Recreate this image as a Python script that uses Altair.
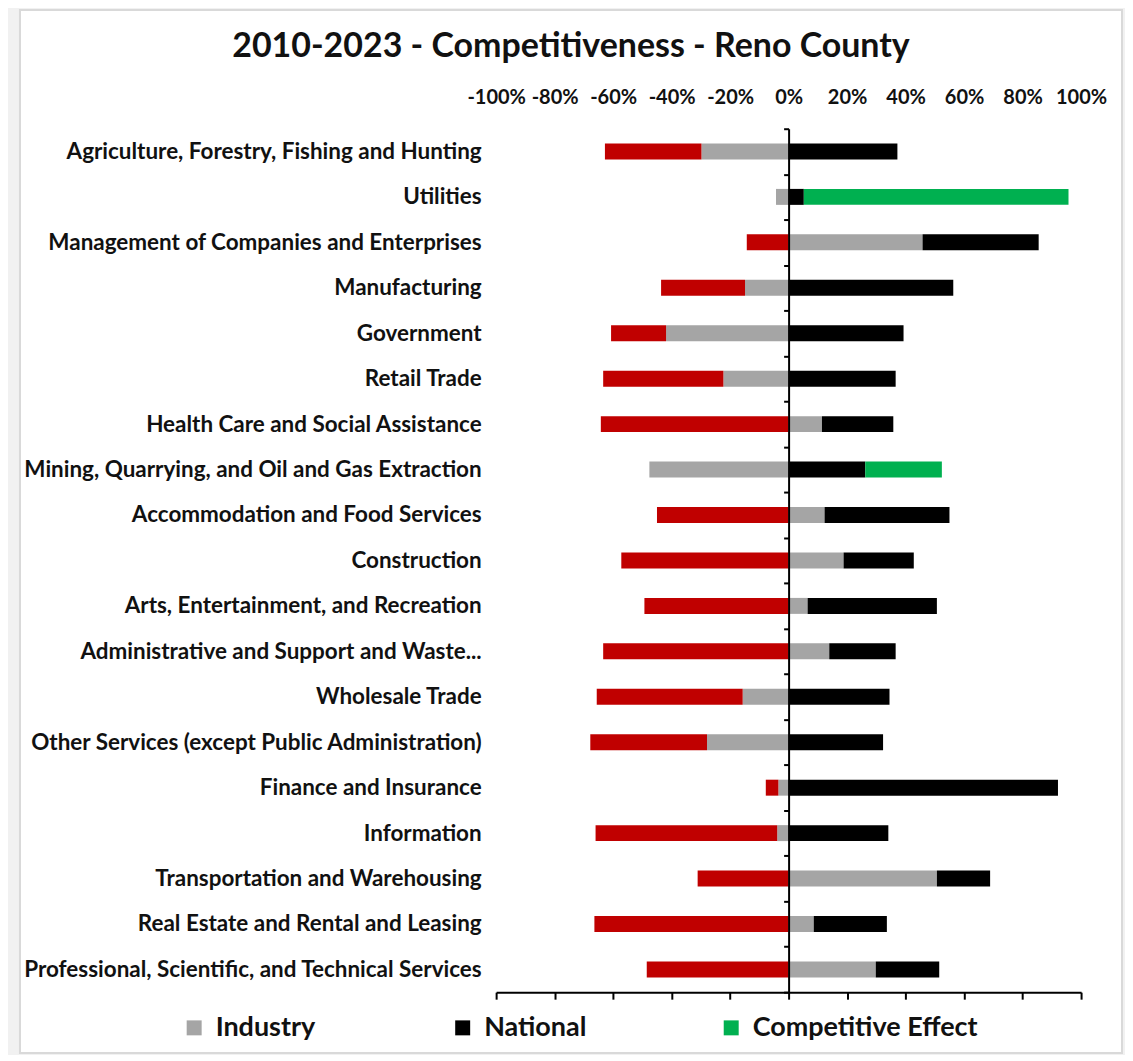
import altair as alt
import pandas as pd

categories = [
    "Agriculture, Forestry, Fishing and Hunting",
    "Utilities",
    "Management of Companies and Enterprises",
    "Manufacturing",
    "Government",
    "Retail Trade",
    "Health Care and Social Assistance",
    "Mining, Quarrying, and Oil and Gas Extraction",
    "Accommodation and Food Services",
    "Construction",
    "Arts, Entertainment, and Recreation",
    "Administrative and Support and Waste...",
    "Wholesale Trade",
    "Other Services (except Public Administration)",
    "Finance and Insurance",
    "Information",
    "Transportation and Warehousing",
    "Real Estate and Rental and Leasing",
    "Professional, Scientific, and Technical Services",
]
industry = [-29.8, -4.3, 45.8, -14.9, -41.9, -22.3, 11.4, -47.6, 12.3, 18.8,
            6.5, 13.9, -15.7, -27.9, -3.5, -3.9, 50.7, 8.6, 29.8]
national = [37.2, 5.2, 39.7, 56.3, 39.3, 36.6, 24.4, 26.2, 42.7, 24.0,
            44.2, 22.7, 34.5, 32.3, 92.1, 34.1, 18.2, 25.0, 21.7]
competitive = [-33.0, 90.5, -14.3, -28.7, -18.8, -41.1, -64.2, 26.2, -45.0, -57.2,
               -49.3, -63.4, -49.9, -39.9, -4.3, -62.1, -31.1, -66.4, -48.5]

series_names = ["Industry", "National", "Competitive Effect"]
color_keys = ["Industry", "National", "Competitive Effect", "Competitive Effect (negative)"]
color_range = ["#A5A5A5", "#000000", "#00B050", "#C00000"]
tick_values = [-1.0, -0.8, -0.6, -0.4, -0.2, 0.0, 0.2, 0.4, 0.6, 0.8, 1.0]
title_text = "2010-2023 - Competitiveness - Reno County"

rows = []
for i, c in enumerate(categories):
    rows.append(dict(category=c, series="Industry", key="Industry",
                     value=industry[i] / 100, order=1))
    rows.append(dict(category=c, series="National", key="National",
                     value=national[i] / 100, order=2))
    comp = competitive[i]
    rows.append(dict(category=c, series="Competitive Effect",
                     key="Competitive Effect" if comp >= 0 else "Competitive Effect (negative)",
                     value=comp / 100, order=3))
df = pd.DataFrame(rows)

FONT = "Lato"
xscale = alt.Scale(domain=[-1, 1], nice=False)
yscale = alt.Scale(paddingInner=0, paddingOuter=0)

bars = alt.Chart(df).mark_bar(size=16).encode(
    x=alt.X("value:Q", stack="zero", scale=xscale,
            axis=alt.Axis(orient="bottom", values=tick_values, labels=False,
                          domainColor="black", domainWidth=2, tickColor="black",
                          tickWidth=2, tickSize=7, grid=False, title=None, zindex=2)),
    y=alt.Y("category:N", sort=categories, scale=yscale,
            axis=alt.Axis(orient="left", offset=-293, title=None, domain=True,
                          domainColor="black", domainWidth=2, ticks=True,
                          tickColor="black", tickWidth=2, tickSize=5,
                          tickBand="extent", labelPadding=303, labelLimit=700,
                          labelFont=FONT, labelFontSize=22.5, labelFontWeight="bold",
                          labelColor="#111111", grid=False, zindex=2)),
    order=alt.Order("order:Q"),
    color=alt.Color("key:N", scale=alt.Scale(domain=color_keys, range=color_range),
                    legend=alt.Legend(orient="none", legendX=-316, legendY=887,
                                      direction="horizontal", title=None,
                                      values=series_names, symbolType="square",
                                      symbolSize=225, symbolStrokeWidth=0,
                                      labelFont=FONT, labelFontSize=27,
                                      labelFontWeight="bold", labelColor="#111111",
                                      labelLimit=500,
                                      gridAlign="all", columnPadding=8,
                                      labelOffset=8, padding=0, zindex=2)),
)

top_axis = alt.Chart(df).mark_bar(opacity=0, size=16).encode(
    x=alt.X("value:Q", stack="zero", scale=xscale,
            axis=alt.Axis(orient="top", values=tick_values,
                          labelExpr="round(datum.value * 100) + '%'",
                          labelOverlap=False, labelFlush=False,
                          domain=False, ticks=False, tickSize=0, labelPadding=21,
                          labelFont=FONT, labelFontSize=20, labelFontWeight="bold",
                          labelColor="#111111", grid=False, title=None, zindex=2)),
    y=alt.Y("category:N", sort=categories, scale=yscale, axis=None),
    order=alt.Order("order:Q"),
)

frame = alt.Chart(pd.DataFrame({"a": [0]})).mark_rect(
    fill="white", stroke="#d9d9d9", strokeWidth=2
).encode(x=alt.value(-477), x2=alt.value(627), y=alt.value(-119), y2=alt.value(926))

title = alt.Chart(pd.DataFrame({"t": [title_text]})).mark_text(
    font=FONT, fontSize=34, fontWeight="bold", align="center", baseline="alphabetic",
    color="#111111"
).encode(text="t:N", x=alt.value(75), y=alt.value(-72))

chart = alt.layer(frame, bars, top_axis, title).resolve_axis(
    x="independent", y="independent"
).properties(
    width=586, height=865, background="#f1f1f1",
    padding={"left": 11, "top": 0, "right": 2, "bottom": 0},
).configure_view(stroke=None)

chart.save("out.html", embed_options={"renderer": "svg", "actions": False})
